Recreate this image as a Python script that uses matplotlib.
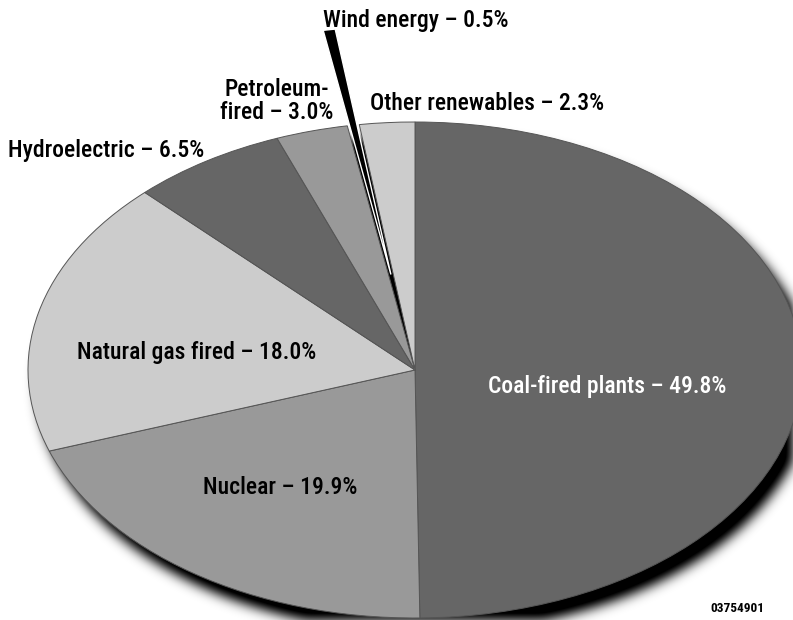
import numpy as np
import matplotlib
matplotlib.use('Agg')
import matplotlib.pyplot as plt

# ---- data ----
sources = ["Coal-fired plants", "Nuclear", "Natural gas fired", "Hydroelectric",
           "Petroleum-\nfired", "Wind energy", "Other renewables"]
shares = [49.8, 19.9, 18.0, 6.5, 3.0, 0.5, 2.3]
explode_amt = [0, 0, 0, 0, 0, 0.39, 0]
colors = ['#666666', '#999999', '#cccccc', '#666666', '#999999', '#000000', '#cccccc']
label_colors = ['white', 'black', 'black', 'black', 'black', 'black', 'black']
# label anchor positions in pixels (x from left, y from top), layout only
label_px = [(607, 386), (280, 488), (197, 353), (106, 151),
            (277, 101), (416, 20), (487, 104)]
credit = "03754901"

plt.rcParams['font.family'] = ['Roboto Condensed', 'Liberation Sans Narrow',
                               'Roboto', 'DejaVu Sans']

W, H = 793, 620
CX, CY, RX, RY = 415, 370, 387, 248

fig = plt.figure(figsize=(W / 100, H / 100), dpi=100)
ax = fig.add_axes([0, 0, 1, 1])
x0, x1 = -CX / RX, (W - CX) / RX
y0, y1 = (CY - H) / RY, CY / RY


def px2data(px, py):
    return (px - CX) / RX, (CY - py) / RY


# ---- drop shadow (blurred ellipse) ----
yy, xx = np.mgrid[0:H, 0:W]
xx = xx + 0.5
yy = yy + 0.5
sdx, sdy = 10, 14
mask = ((((xx - CX - sdx) / RX) ** 2 + ((yy - CY - sdy) / RY) ** 2) <= 1).astype(float)
sigma = 6.0
kx = np.arange(-3 * int(sigma), 3 * int(sigma) + 1)
kern = np.exp(-kx ** 2 / (2 * sigma ** 2))
kern /= kern.sum()
blur = np.apply_along_axis(lambda r: np.convolve(r, kern, mode='same'), 1, mask)
blur = np.apply_along_axis(lambda c: np.convolve(c, kern, mode='same'), 0, blur)
rgba = np.zeros((H, W, 4))
rgba[..., 3] = np.clip(blur * 1.15, 0, 1)
ax.imshow(rgba, extent=(x0, x1, y0, y1), aspect='auto', origin='upper',
          zorder=0, interpolation='bilinear')

# ---- pie ----
wedges, _ = ax.pie(shares, colors=colors, startangle=90, counterclock=False,
                   explode=explode_amt, radius=1, center=(0, 0),
                   wedgeprops=dict(edgecolor='#555555', linewidth=0.7))
wind = wedges[5]
wind.set_edgecolor('white')
wind.set_linewidth(1.0)
wind.set_zorder(3)

ax.set_xlim(x0, x1)
ax.set_ylim(y0, y1)
ax.set_aspect('auto')
ax.axis('off')

# ---- labels ----
for name, val, (px, py), col in zip(sources, shares, label_px, label_colors):
    tx, ty = px2data(px, py)
    ax.text(tx, ty, f"{name} – {val:.1f}%", ha='center', va='center',
            fontsize=17, color=col, fontweight='medium', zorder=5,
            linespacing=0.98)

cx, cy = px2data(737, 609)
ax.text(cx, cy, credit, ha='center', va='center', fontsize=9.5,
        fontweight='bold', color='black', zorder=5)

fig.savefig('out.png', dpi=100)
